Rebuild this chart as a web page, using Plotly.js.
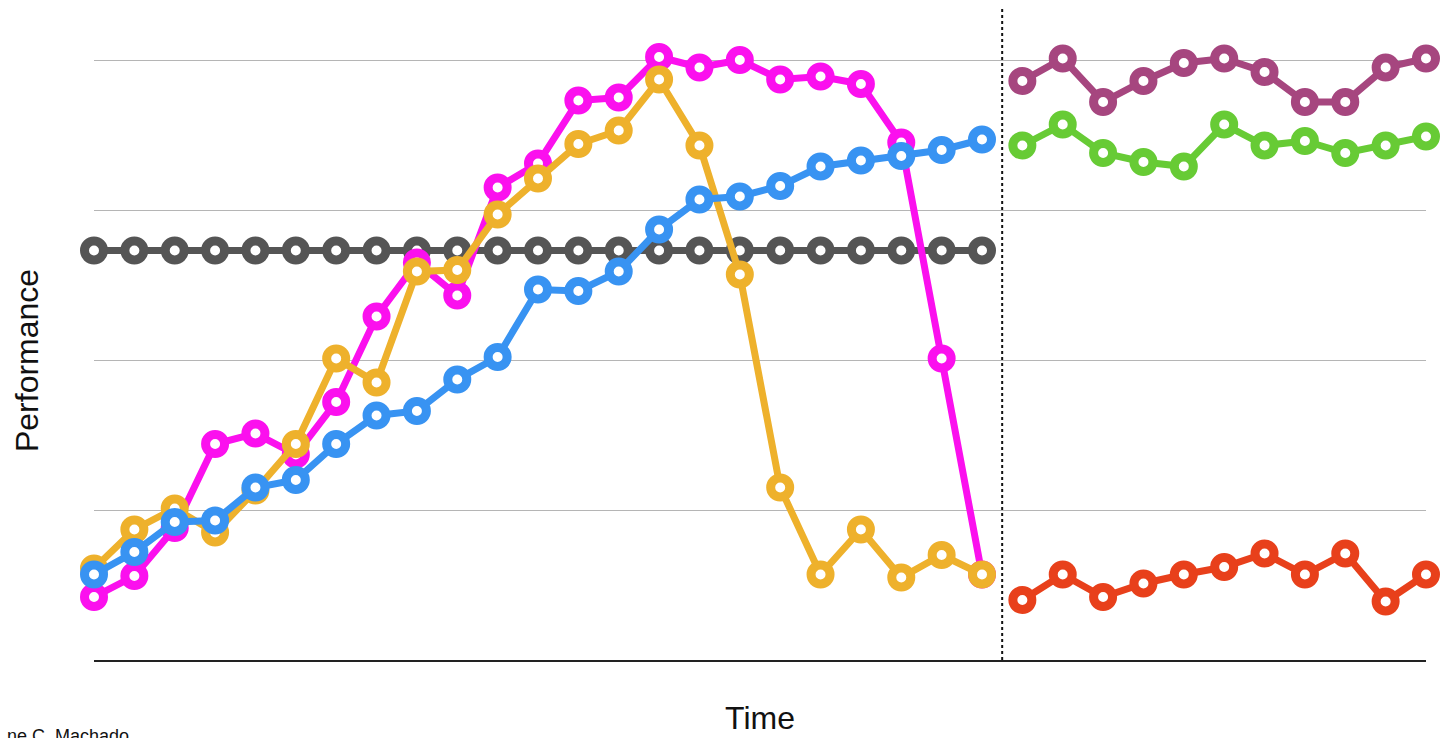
<!DOCTYPE html>
<html>
<head>
<meta charset="utf-8">
<script src="https://cdn.plot.ly/plotly-3.0.1.min.js"></script>
<style>
  html, body { margin: 0; padding: 0; background: #ffffff; overflow: hidden; }
  #chart { width: 1441px; height: 738px; }
</style>
</head>
<body>
<div id="chart"></div>
<script>
// ---- Data ----
const leftTimes  = [0,1,2,3,4,5,6,7,8,9,10,11,12,13,14,15,16,17,18,19,20,21,22];
const rightTimes = [23,24,25,26,27,28,29,30,31,32,33];

const grayValues = [2.73,2.73,2.73,2.73,2.73,2.73,2.73,2.73,2.73,2.73,2.73,2.73,
                    2.73,2.73,2.73,2.73,2.73,2.73,2.73,2.73,2.73,2.73,2.73];
const magentaValues = [0.42,0.56,0.88,1.44,1.51,1.37,1.72,2.29,2.65,2.43,3.15,3.31,
                       3.73,3.75,4.02,3.95,4.00,3.87,3.89,3.84,3.45,2.01,0.57];
const orangeValues = [0.61,0.87,1.01,0.85,1.13,1.44,2.01,1.85,2.59,2.60,2.97,3.21,
                      3.44,3.53,3.87,3.43,2.57,1.15,0.57,0.87,0.55,0.70,0.57];
const blueValues = [0.57,0.72,0.92,0.93,1.15,1.20,1.44,1.63,1.66,1.87,2.02,2.47,
                    2.46,2.59,2.87,3.07,3.09,3.16,3.29,3.33,3.36,3.40,3.47];
const purpleValues = [3.86,4.01,3.72,3.86,3.98,4.01,3.92,3.72,3.72,3.95,4.01];
const greenValues  = [3.43,3.57,3.38,3.32,3.29,3.57,3.43,3.46,3.38,3.43,3.49];
const redValues    = [0.40,0.57,0.42,0.51,0.57,0.62,0.71,0.57,0.71,0.39,0.57];

const gridValues = [1,2,3,4];
const splitTime = 22.5;

// ---- Styling ----
function series(x, y, color, name) {
  return {
    x: x, y: y, name: name, type: 'scatter', mode: 'lines+markers',
    line: { color: color, width: 7 },
    marker: { symbol: 'circle', size: 19, color: '#ffffff',
              line: { color: color, width: 9 } },
    cliponaxis: false, hoverinfo: 'skip'
  };
}

const data = [
  series(leftTimes, grayValues, '#555555', 'Baseline'),
  series(leftTimes, magentaValues, '#fb10ee', 'Magenta'),
  series(leftTimes, orangeValues, '#eeb12c', 'Orange'),
  series(leftTimes, blueValues, '#3893f2', 'Blue'),
  series(rightTimes, purpleValues, '#a6467f', 'Purple'),
  series(rightTimes, greenValues, '#67cb35', 'Green'),
  series(rightTimes, redValues, '#e8401b', 'Red')
];

const layout = {
  width: 1441, height: 738,
  margin: { l: 94, r: 15, t: 0, b: 78 },
  paper_bgcolor: '#ffffff', plot_bgcolor: '#ffffff',
  showlegend: false,
  font: { family: 'Liberation Sans, Arial, sans-serif', color: '#111111' },
  xaxis: {
    range: [0, 33], showgrid: false, zeroline: false,
    showticklabels: false, ticks: '',
    showline: true, linecolor: '#222222', linewidth: 1.5,
    title: { text: 'Time', font: { size: 32, color: '#111111' }, standoff: 46 }
  },
  yaxis: {
    range: [0, 4.4], tickvals: gridValues, showticklabels: false, ticks: '',
    showgrid: true, gridcolor: '#b5b5b5', gridwidth: 1,
    zeroline: false, showline: false
  },
  shapes: [{
    type: 'line', xref: 'x', yref: 'y',
    x0: splitTime, x1: splitTime, y0: 0, y1: 4.35,
    line: { color: '#111111', width: 2, dash: 'dot' }
  }],
  annotations: [
    {
      text: 'Performance', xref: 'paper', yref: 'paper',
      x: -0.0503, y: 0.453, xanchor: 'center', yanchor: 'middle',
      textangle: -90, showarrow: false, font: { size: 32, color: '#111111' }
    },
    {
      text: 'ne C. Machado', xref: 'paper', yref: 'paper',
      x: -0.067, y: -0.115, xanchor: 'left', yanchor: 'middle',
      showarrow: false, font: { size: 18, color: '#111111' }
    }
  ]
};

Plotly.newPlot('chart', data, layout, { displayModeBar: false, staticPlot: true });
</script>
</body>
</html>
